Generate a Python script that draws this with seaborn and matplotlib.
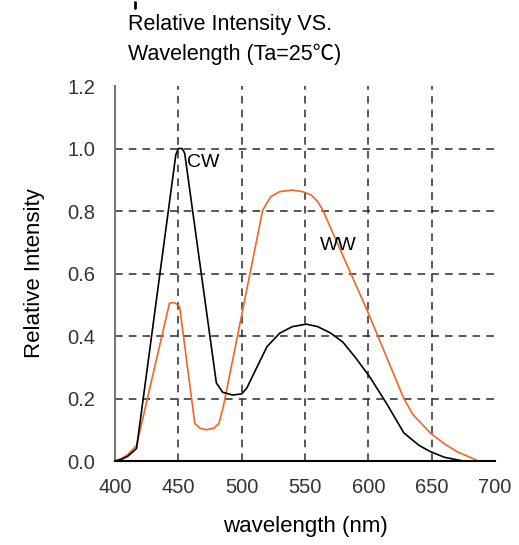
import numpy as np
import matplotlib
matplotlib.use('Agg')
import matplotlib.pyplot as plt
from matplotlib.lines import Line2D
import seaborn as sns

sns.set_style("white")
plt.rcParams['font.family'] = ['Liberation Sans', 'Noto Sans CJK SC', 'DejaVu Sans']
plt.rcParams['text.color'] = 'black'
plt.rcParams['axes.labelcolor'] = 'black'

# CW (cool white) spectrum
cw_wl = [400, 405, 410, 417, 448, 450, 453, 455, 480, 485, 493, 500, 504, 512, 520, 530,
         540, 551, 560, 570, 580, 590, 601, 615, 628, 640, 649, 660, 675, 690]
cw_val = [0.0, 0.005, 0.015, 0.04, 0.98, 1.0, 1.0, 0.985, 0.25, 0.22, 0.211, 0.215, 0.233,
          0.30, 0.366, 0.409, 0.43, 0.438, 0.43, 0.41, 0.38, 0.33, 0.27, 0.18, 0.09, 0.05,
          0.03, 0.012, 0.0, 0.0]

# WW (warm white) spectrum
ww_wl = [400, 405, 410, 417, 443, 447, 451, 463, 467, 472, 478, 482, 485.5, 516.6, 523, 530,
         540, 548, 555, 560, 564, 600, 628, 635, 649, 660, 670, 687]
ww_val = [0.0, 0.008, 0.02, 0.05, 0.505, 0.507, 0.494, 0.12, 0.105, 0.10, 0.105, 0.12, 0.174,
          0.803, 0.846, 0.862, 0.867, 0.862, 0.851, 0.83, 0.803, 0.473, 0.2, 0.15, 0.089,
          0.055, 0.03, 0.0]

x_ticks = [400, 450, 500, 550, 600, 650, 700]
y_ticks = [0.0, 0.2, 0.4, 0.6, 0.8, 1.0, 1.2]

fig = plt.figure(figsize=(5.19, 5.45), dpi=100)
ax = fig.add_axes([0.2216, 0.1541, 0.7322, 0.6881])

# dashed grid (no line at the outer edges)
for xv in x_ticks[1:-1]:
    ax.axvline(xv, color='#2a2a2a', linestyle=(0, (5, 4)), linewidth=1.1, zorder=1)
for yv in y_ticks[1:-1]:
    ax.axhline(yv, color='#2a2a2a', linestyle=(0, (5, 4)), linewidth=1.1, zorder=1)

sns.lineplot(x=ww_wl, y=ww_val, color='#f26522', linewidth=1.2, sort=False, ax=ax, zorder=3)
sns.lineplot(x=cw_wl, y=cw_val, color='black', linewidth=1.2, sort=False, ax=ax, zorder=3)

ax.text(457, 0.955, 'CW', fontsize=14, ha='left', va='center')
ax.text(562, 0.69, 'WW', fontsize=14, ha='left', va='center')

ax.set_xlim(400, 700)
ax.set_ylim(0, 1.2)
ax.set_xticks(x_ticks)
ax.set_yticks(y_ticks)
ax.set_yticklabels([f'{v:.1f}' for v in y_ticks])
ax.tick_params(direction='in', length=5, width=1, colors='#555555', labelcolor='#333333',
               labelsize=14.5)
ax.tick_params(axis='x', pad=12)
ax.tick_params(axis='y', pad=14)

for s in ['top', 'right']:
    ax.spines[s].set_visible(False)
ax.spines['left'].set_color('#777777')
ax.spines['left'].set_linewidth(1.5)
ax.spines['bottom'].set_color('black')
ax.spines['bottom'].set_linewidth(1.5)

ax.set_xlabel('wavelength (nm)', fontsize=16, labelpad=14)
ax.set_ylabel('Relative Intensity', fontsize=16, labelpad=16)

fig.text(0.247, 0.945, 'Relative Intensity VS.', fontsize=15.5, ha='left', va='baseline')
fig.text(0.247, 0.890, 'Wavelength (Ta=25℃)', fontsize=15.5, ha='left', va='baseline')
# small stray mark above the title
fig.add_artist(Line2D([0.2595, 0.2595], [0.985, 0.996], color='black', linewidth=2,
                      transform=fig.transFigure))

fig.savefig('out.png', dpi=100)
